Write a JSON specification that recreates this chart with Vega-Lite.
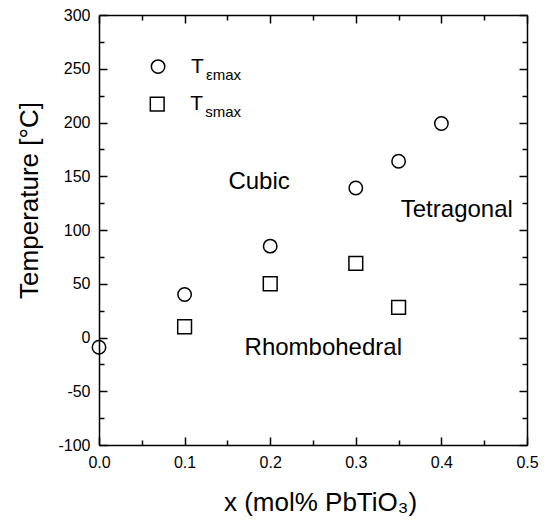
{
  "$schema": "https://vega.github.io/schema/vega-lite/v6.json",
  "width": 428,
  "height": 430,
  "autosize": "none",
  "padding": {"left": 99, "top": 15, "right": 23, "bottom": 77},
  "background": "white",
  "config": {
    "view": {"stroke": null},
    "font": "Liberation Sans",
    "axis": {
      "grid": false,
      "domainColor": "black",
      "domainWidth": 1.5,
      "tickColor": "black",
      "tickWidth": 1.5,
      "labelColor": "black",
      "labelFont": "Liberation Sans",
      "labelFontSize": 16,
      "labelOverlap": false,
      "labelFlush": false,
      "titleColor": "black",
      "titleFont": "Liberation Sans",
      "titleFontWeight": "normal",
      "titleFontSize": 26
    }
  },
  "datasets": {
    "points": [
      {"x": 0.0, "T": -9, "series": "Tεmax"},
      {"x": 0.1, "T": 40, "series": "Tεmax"},
      {"x": 0.2, "T": 85, "series": "Tεmax"},
      {"x": 0.3, "T": 139, "series": "Tεmax"},
      {"x": 0.35, "T": 164, "series": "Tεmax"},
      {"x": 0.4, "T": 199, "series": "Tεmax"},
      {"x": 0.1, "T": 10, "series": "Tsmax"},
      {"x": 0.2, "T": 50, "series": "Tsmax"},
      {"x": 0.3, "T": 69, "series": "Tsmax"},
      {"x": 0.35, "T": 28, "series": "Tsmax"}
    ],
    "regions": [
      {"x": 0.187, "T": 145, "label": "Cubic"},
      {"x": 0.418, "T": 119, "label": "Tetragonal"},
      {"x": 0.262, "T": -10, "label": "Rhombohedral"}
    ],
    "legend": [
      {"x": 0.069, "T": 252, "series": "Tεmax", "sub": "εmax"},
      {"x": 0.068, "T": 217, "series": "Tsmax", "sub": "smax"}
    ]
  },
  "layer": [
    {
      "data": {"name": "points"},
      "mark": {"type": "point", "filled": false, "strokeWidth": 1.5, "color": "black", "opacity": 1},
      "encoding": {
        "x": {
          "field": "x", "type": "quantitative",
          "scale": {"domain": [0, 0.5], "nice": false, "zero": false},
          "axis": {
            "orient": "bottom",
            "title": "x (mol% PbTiO₃)",
            "titleX": 221, "titleY": 44, "titleBaseline": "top",
            "values": [0, 0.05, 0.1, 0.15, 0.2, 0.25, 0.3, 0.35, 0.4, 0.45, 0.5],
            "format": ".1f",
            "labelExpr": "round(datum.value*100) % 10 == 0 ? datum.label : ''",
            "tickSize": {"condition": {"test": "round(datum.value*100) % 10 == 0", "value": -8}, "value": -5},
            "labelPadding": 17
          }
        },
        "y": {
          "field": "T", "type": "quantitative",
          "scale": {"domain": [-100, 300], "nice": false, "zero": false},
          "axis": {
            "orient": "left",
            "title": "Temperature [°C]",
            "titleX": -57, "titleY": 185, "titleAngle": -90, "titleBaseline": "bottom", "titleAlign": "center",
            "values": [-100, -75, -50, -25, 0, 25, 50, 75, 100, 125, 150, 175, 200, 225, 250, 275, 300],
            "labelExpr": "datum.value % 50 == 0 ? replace(datum.label, '−', '-') : ''",
            "tickSize": {"condition": {"test": "datum.value % 50 == 0", "value": -8}, "value": -5},
            "labelPadding": 17
          }
        },
        "shape": {
          "field": "series", "type": "nominal",
          "scale": {"domain": ["Tεmax", "Tsmax"], "range": ["circle", "square"]},
          "legend": null
        },
        "size": {
          "field": "series", "type": "nominal",
          "scale": {"domain": ["Tεmax", "Tsmax"], "range": [180, 190]},
          "legend": null
        }
      }
    },
    {
      "data": {"name": "regions"},
      "mark": {"type": "text", "fontSize": 24, "font": "Liberation Sans", "color": "black", "align": "center", "baseline": "middle"},
      "encoding": {
        "x": {
          "field": "x", "type": "quantitative",
          "scale": {"domain": [0, 0.5], "nice": false, "zero": false},
          "axis": {
            "orient": "top", "title": null, "labels": false,
            "values": [0, 0.05, 0.1, 0.15, 0.2, 0.25, 0.3, 0.35, 0.4, 0.45, 0.5],
            "tickSize": {"condition": {"test": "round(datum.value*100) % 10 == 0", "value": -8}, "value": -5}
          }
        },
        "y": {
          "field": "T", "type": "quantitative",
          "scale": {"domain": [-100, 300], "nice": false, "zero": false},
          "axis": {
            "orient": "right", "title": null, "labels": false,
            "values": [-100, -75, -50, -25, 0, 25, 50, 75, 100, 125, 150, 175, 200, 225, 250, 275, 300],
            "tickSize": {"condition": {"test": "datum.value % 50 == 0", "value": -8}, "value": -5}
          }
        },
        "text": {"field": "label", "type": "nominal"}
      }
    },
    {
      "data": {"name": "legend"},
      "mark": {"type": "point", "filled": false, "strokeWidth": 1.5, "color": "black", "opacity": 1},
      "encoding": {
        "x": {"field": "x", "type": "quantitative", "axis": null},
        "y": {"field": "T", "type": "quantitative", "axis": null},
        "shape": {"field": "series", "type": "nominal", "legend": null},
        "size": {"field": "series", "type": "nominal", "legend": null}
      }
    },
    {
      "data": {"name": "legend"},
      "mark": {"type": "text", "text": "T", "fontSize": 21, "font": "Liberation Sans", "color": "black", "align": "left", "baseline": "middle", "dx": 33},
      "encoding": {
        "x": {"field": "x", "type": "quantitative", "axis": null},
        "y": {"field": "T", "type": "quantitative", "axis": null}
      }
    },
    {
      "data": {"name": "legend"},
      "mark": {"type": "text", "fontSize": 15, "font": "Liberation Sans", "color": "black", "align": "left", "baseline": "middle", "dx": 48, "dy": 8},
      "encoding": {
        "x": {"field": "x", "type": "quantitative", "axis": null},
        "y": {"field": "T", "type": "quantitative", "axis": null},
        "text": {"field": "sub", "type": "nominal"}
      }
    }
  ],
  "resolve": {"axis": {"x": "independent", "y": "independent"}}
}
